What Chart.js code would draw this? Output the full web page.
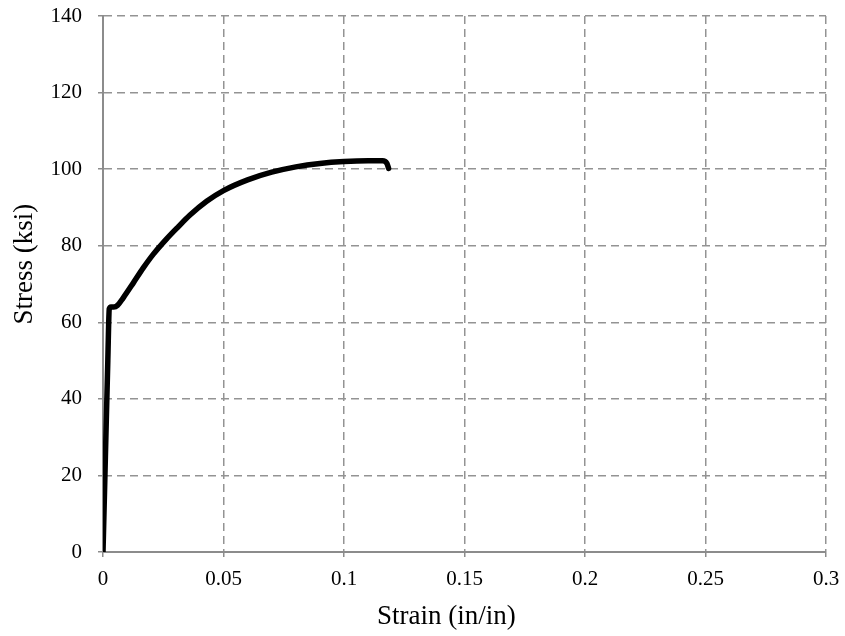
<!DOCTYPE html>
<html>
<head>
<meta charset="utf-8">
<script src="https://cdn.jsdelivr.net/npm/chart.js@4"></script>
<style>
  html, body { margin: 0; padding: 0; background: #fff; }
  #wrap { width: 845px; height: 636px; }
</style>
</head>
<body>
<div id="wrap"><canvas id="stressChart"></canvas></div>
<script>
// datos
const strain = [0, 0.0010, 0.0020, 0.0026, 0.0033, 0.0045, 0.0060, 0.0084, 0.0126, 0.0167, 0.0209, 0.0264, 0.0313, 0.0361, 0.0430, 0.0500, 0.0600, 0.0700, 0.0800, 0.0900, 0.1000, 0.1100, 0.1160, 0.1178, 0.1185];
const stress = [0, 25, 50, 63.5, 64.0, 64.0, 64.4, 66.4, 70.3, 74.2, 77.8, 81.8, 85.0, 88.0, 91.6, 94.4, 97.2, 99.2, 100.6, 101.5, 102.0, 102.2, 102.2, 101.5, 100.2];

const xTicks = [0, 0.05, 0.1, 0.15, 0.2, 0.25, 0.3];
const yTicks = [0, 20, 40, 60, 80, 100, 120, 140];

const xTitle = 'Strain (in/in)';
const yTitle = 'Stress (ksi)';

const serif = '"Liberation Serif", "Times New Roman", serif';
const gridGray = '#939393';
const axisGray = '#8c8c8c';

const points = strain.map((s, i) => ({ x: s, y: stress[i] }));

// titulos de ejes dibujados a mano
const axisTitles = {
    id: 'axisTitles',
    afterDraw(chart) {
        const { ctx, chartArea } = chart;
        ctx.save();
        ctx.fillStyle = '#000';
        ctx.font = '27px ' + serif;
        ctx.textAlign = 'center';
        ctx.textBaseline = 'middle';
        ctx.fillText(xTitle, chartArea.left + (chartArea.right - chartArea.left) * 0.475, 617);
        ctx.translate(25, chartArea.top + (chartArea.bottom - chartArea.top) * 0.463);
        ctx.rotate(-Math.PI / 2);
        ctx.fillText(yTitle, 0, 0);
        ctx.restore();
    }
};

new Chart(document.getElementById('stressChart'), {
    type: 'line',
    data: {
        datasets: [{
            data: points,
            borderColor: '#000',
            borderWidth: 5.5,
            pointRadius: 0,
            cubicInterpolationMode: 'monotone',
            borderCapStyle: 'round',
            borderJoinStyle: 'round',
            fill: false
        }]
    },
    options: {
        responsive: true,
        maintainAspectRatio: false,
        animation: false,
        layout: { padding: { top: 16, right: 19, left: 0, bottom: 0 } },
        plugins: { legend: { display: false }, tooltip: { enabled: false } },
        scales: {
            x: {
                type: 'linear',
                min: 0, max: 0.3,
                afterBuildTicks: ax => { ax.ticks = xTicks.map(v => ({ value: v })); },
                afterFit: ax => { ax.height = 84; ax.paddingLeft = 0; ax.paddingRight = 0; },
                grid: { color: gridGray, lineWidth: 1.5, tickLength: 5, tickColor: axisGray },
                border: { color: axisGray, width: 2, dash: [8, 5] },
                ticks: { color: '#000', font: { family: serif, size: 21 }, padding: 10, maxRotation: 0,
                         callback: v => String(v) }
            },
            y: {
                min: 0, max: 140,
                afterBuildTicks: ax => { ax.ticks = yTicks.map(v => ({ value: v })); },
                afterFit: ax => { ax.width = 103; ax.paddingTop = 0; ax.paddingBottom = 0; },
                grid: { color: gridGray, lineWidth: 1.5, tickLength: 5, tickColor: axisGray },
                border: { color: axisGray, width: 2, dash: [8, 5] },
                ticks: { color: '#000', font: { family: serif, size: 21 }, padding: 16 }
            }
        }
    },
    plugins: [axisTitles]
});
</script>
</body>
</html>
